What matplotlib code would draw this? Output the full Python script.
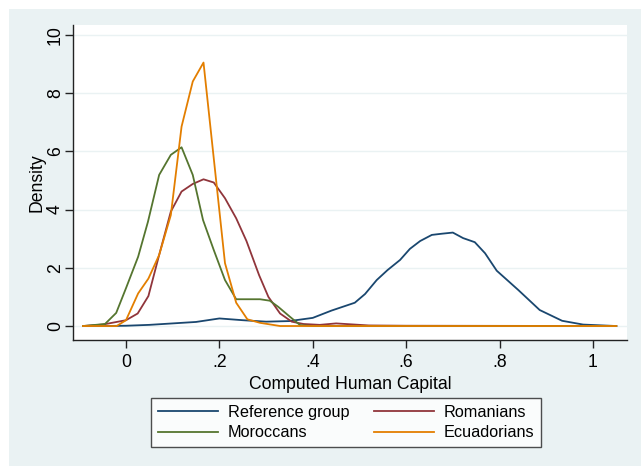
import matplotlib
matplotlib.use("Agg")
import matplotlib.pyplot as plt
from matplotlib.patches import Rectangle

plt.rcParams['font.family'] = ['Liberation Sans', 'DejaVu Sans']

# kernel density curves
ref_x = [-0.09, -0.05, 0.0, 0.05, 0.1, 0.15, 0.2, 0.25, 0.3, 0.35, 0.4, 0.44, 0.49,
         0.512, 0.537, 0.56, 0.587, 0.608, 0.63, 0.655, 0.676, 0.70, 0.722, 0.747,
         0.769, 0.794, 0.84, 0.886, 0.934, 0.979, 1.05]
ref_y = [0.0, 0.0, 0.01, 0.04, 0.09, 0.14, 0.26, 0.2, 0.15, 0.17, 0.28, 0.53, 0.8,
         1.1, 1.58, 1.92, 2.27, 2.65, 2.92, 3.13, 3.17, 3.21, 3.02, 2.88,
         2.5, 1.9, 1.24, 0.55, 0.18, 0.05, 0.0]

rom_x = [-0.092, -0.05, 0.0, 0.025, 0.048, 0.071, 0.096, 0.119, 0.143, 0.166, 0.188,
         0.212, 0.236, 0.258, 0.285, 0.305, 0.33, 0.355, 0.38, 0.415, 0.45, 0.48,
         0.52, 0.6, 1.05]
rom_y = [0.0, 0.05, 0.2, 0.43, 1.03, 2.44, 3.93, 4.62, 4.88, 5.04, 4.93,
         4.39, 3.7, 2.92, 1.75, 1.0, 0.43, 0.15, 0.07, 0.04, 0.09, 0.06,
         0.02, 0.01, 0.0]

mor_x = [-0.092, -0.045, -0.021, 0.0, 0.026, 0.047, 0.071, 0.096, 0.119, 0.143, 0.165,
         0.188, 0.212, 0.236, 0.287, 0.308, 0.326, 0.351, 0.373, 0.4, 1.05]
mor_y = [0.0, 0.07, 0.45, 1.3, 2.38, 3.58, 5.19, 5.88, 6.14, 5.19, 3.64,
         2.61, 1.58, 0.92, 0.92, 0.87, 0.66, 0.32, 0.03, 0.0, 0.0]

ecu_x = [-0.092, -0.02, 0.0, 0.026, 0.048, 0.071, 0.096, 0.119, 0.143, 0.166,
         0.212, 0.236, 0.26, 0.287, 0.33, 1.05]
ecu_y = [0.0, 0.0, 0.2, 1.12, 1.63, 2.44, 3.81, 6.85, 8.4, 9.05,
         2.16, 0.8, 0.23, 0.11, 0.0, 0.0]

xticks = [0, 0.2, 0.4, 0.6, 0.8, 1]
xticklabels = ['0', '.2', '.4', '.6', '.8', '1']
yticks = [0, 2, 4, 6, 8, 10]

bg = '#EAF2F3'
fs = 12.7
fig = plt.figure(figsize=(6.41, 4.66), dpi=100, facecolor='white')
fig.patches.append(Rectangle((9 / 641, 0), 1 - 9 / 641, 1 - 9 / 466,
                             transform=fig.transFigure, facecolor=bg,
                             edgecolor='none', zorder=-10))

ax = fig.add_axes([73 / 641, 1 - 340 / 466, (627 - 73) / 641, (340 - 25) / 466])
ax.set_facecolor('white')

lw = 1.3
l_ref, = ax.plot(ref_x, ref_y, color='#1a476f', lw=lw, label='Reference group')
l_rom, = ax.plot(rom_x, rom_y, color='#90353b', lw=lw, label='Romanians')
l_mor, = ax.plot(mor_x, mor_y, color='#55752f', lw=lw, label='Moroccans')
l_ecu, = ax.plot(ecu_x, ecu_y, color='#e37e00', lw=lw, label='Ecuadorians')

ax.set_xlim(-0.1135, 1.073)
ax.set_ylim(-0.48, 10.34)
ax.set_xticks(xticks)
ax.set_xticklabels(xticklabels)
ax.set_yticks(yticks)
ax.set_yticklabels([str(v) for v in yticks], rotation=90, va='center')
for v in yticks:
    ax.axhline(v, color=bg, lw=1.0, zorder=0)

for s in ['top', 'right']:
    ax.spines[s].set_visible(False)
for s in ['left', 'bottom']:
    ax.spines[s].set_color('#222222')
    ax.spines[s].set_linewidth(1.0)
ax.tick_params(direction='out', length=6, width=1, color='#222222',
               labelsize=fs)
ax.tick_params(axis='x', pad=4)
ax.tick_params(axis='y', pad=0.5)

ax.set_xlabel('Computed Human Capital', fontsize=fs, labelpad=4)
ax.set_ylabel('Density', fontsize=fs, labelpad=1)

# matplotlib fills legend columns first, so order for row-wise reading
handles = [l_ref, l_mor, l_rom, l_ecu]
leg = fig.legend(handles=handles, labels=[h.get_label() for h in handles],
                 loc='center', bbox_to_anchor=(346 / 641, 1 - 422.5 / 466),
                 ncol=2, fontsize=11.7, frameon=True, fancybox=False,
                 handlelength=3.7, handletextpad=0.6, columnspacing=1.5,
                 labelspacing=0.35, borderpad=0.4, borderaxespad=0)
leg.get_frame().set_edgecolor('#222222')
leg.get_frame().set_linewidth(1.0)

fig.savefig('out.png', dpi=100, facecolor=fig.get_facecolor())
